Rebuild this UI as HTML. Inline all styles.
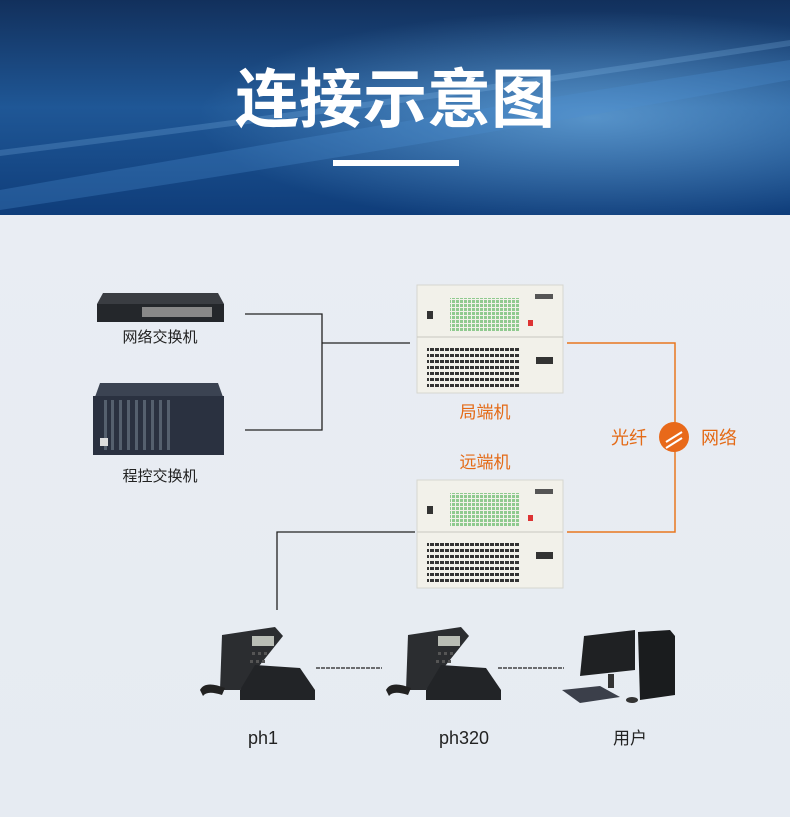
<!DOCTYPE html>
<html><head><meta charset="utf-8"><style>
html,body{margin:0;padding:0;width:790px;height:817px;overflow:hidden;background:#e8ecf2;}
svg{display:block}
text{font-family:"Liberation Sans","Noto Sans CJK SC",sans-serif;}
</style></head><body>
<svg width="790" height="817" viewBox="0 0 790 817" xmlns="http://www.w3.org/2000/svg">
<defs>
<linearGradient id="hdr" x1="0" y1="0" x2="0" y2="1">
<stop offset="0" stop-color="#12305c"/><stop offset="0.5" stop-color="#1f5796"/><stop offset="1" stop-color="#0f3d7a"/>
</linearGradient>
<radialGradient id="glow" cx="0.75" cy="0.55" r="0.5"><stop offset="0" stop-color="#8fd0ff" stop-opacity="0.5"/><stop offset="1" stop-color="#8fd0ff" stop-opacity="0"/></radialGradient>
<pattern id="grn" width="4" height="4" patternUnits="userSpaceOnUse"><rect width="3" height="3" fill="#8fca8f"/></pattern>
<pattern id="blk" width="5" height="6" patternUnits="userSpaceOnUse"><rect width="4" height="3" fill="#333"/></pattern>
<linearGradient id="bg" x1="0" y1="0" x2="0" y2="1"><stop offset="0" stop-color="#e9edf3"/><stop offset="1" stop-color="#e6ebf2"/></linearGradient>
</defs>
<rect x="0" y="215" width="790" height="602" fill="url(#bg)"/>
<rect x="0" y="0" width="790" height="215" fill="url(#hdr)"/>
<rect x="0" y="0" width="790" height="215" fill="url(#glow)"/>
<path d="M0 190 Q400 120 790 60 L790 80 Q400 150 0 210Z" fill="#4d8fd0" opacity="0.3"/>
<path d="M0 150 Q400 100 790 40 L790 46 Q400 106 0 156Z" fill="#9cd0ff" opacity="0.2"/>
<text x="395" y="122" text-anchor="middle" font-size="64" font-weight="bold" fill="#fff">连接示意图</text>
<rect x="333" y="160" width="126" height="6" fill="#fff"/>

<path d="M103 293 L218 293 L224 304 L97 304Z" fill="#3a3d42"/>
<rect x="97" y="304" width="127" height="18" fill="#24272b"/>
<rect x="142" y="307" width="70" height="10" fill="#888"/>
<text x="160" y="342" text-anchor="middle" font-size="15" fill="#222">网络交换机</text>
<path d="M100 383 L218 383 L223 397 L95 397Z" fill="#3b4352"/>
<rect x="93" y="396" width="131" height="59" fill="#2a3140"/>
<g fill="#55606e"><rect x="104" y="400" width="3" height="50"/><rect x="111" y="400" width="3" height="50"/><rect x="119" y="400" width="3" height="50"/><rect x="127" y="400" width="3" height="50"/><rect x="135" y="400" width="3" height="50"/><rect x="143" y="400" width="3" height="50"/><rect x="151" y="400" width="3" height="50"/><rect x="159" y="400" width="3" height="50"/><rect x="167" y="400" width="3" height="50"/></g>
<rect x="100" y="438" width="8" height="8" fill="#ddd"/>
<text x="160" y="481" text-anchor="middle" font-size="15" fill="#222">程控交换机</text>

<g stroke="#222" stroke-width="1.3" fill="none">
<polyline points="245,314 322,314 322,430 245,430"/>
<line x1="322" y1="343" x2="410" y2="343"/>
<polyline points="415,532 277,532 277,610"/>
</g>
<polyline points="567,343 675,343 675,532 567,532" stroke="#e8761f" stroke-width="1.5" fill="none"/>

<g id="u">
<rect x="417" y="285" width="146" height="108" fill="#f2f1ea" stroke="#d6d6d0"/>
<line x1="417" y1="337" x2="563" y2="337" stroke="#c8c8c0"/>
<rect x="450" y="298" width="70" height="33" fill="url(#grn)"/>
<rect x="427" y="311" width="6" height="8" fill="#333"/>
<rect x="528" y="320" width="5" height="6" fill="#d33"/>
<rect x="535" y="294" width="18" height="5" fill="#555"/>
<rect x="427" y="345" width="92" height="42" fill="url(#blk)"/>
<rect x="536" y="357" width="17" height="7" fill="#333"/>
</g>
<use href="#u" y="195"/>

<text x="485" y="418" text-anchor="middle" font-size="17" fill="#e46a16">局端机</text>
<text x="485" y="468" text-anchor="middle" font-size="17" fill="#e46a16">远端机</text>
<text x="629" y="444" text-anchor="middle" font-size="18" fill="#e46a16">光纤</text>
<text x="719" y="444" text-anchor="middle" font-size="18" fill="#e46a16">网络</text>
<circle cx="674" cy="437" r="15" fill="#e8691a"/>
<g stroke="#fff" stroke-width="2" fill="none"><line x1="666" y1="442" x2="682" y2="432"/><line x1="666" y1="448" x2="682" y2="438"/></g>

<g id="ph">
<path d="M222 635 L275 627 L283 636 L240 690 L220 690Z" fill="#2b2d30"/>
<path d="M255 665 L300 668 L315 690 L315 700 L240 700 L240 690Z" fill="#222427"/>
<rect x="252" y="636" width="22" height="10" fill="#b9bdb5"/>
<path d="M200 690 Q205 680 225 688 L222 695 Q207 690 203 696Z" fill="#222"/>
<g fill="#555"><rect x="252" y="652" width="3" height="3"/><rect x="258" y="652" width="3" height="3"/><rect x="264" y="652" width="3" height="3"/><rect x="250" y="660" width="3" height="3"/><rect x="256" y="660" width="3" height="3"/><rect x="262" y="660" width="3" height="3"/></g>
</g>
<use href="#ph" x="186"/>
<path d="M584 636 L635 630 L635 670 L580 676Z" fill="#1f2123"/>
<rect x="608" y="674" width="6" height="14" fill="#333"/>
<path d="M562 690 L600 686 L620 697 L580 703Z" fill="#3b3f4a"/>
<path d="M638 632 L670 630 L675 636 L675 695 L640 700Z" fill="#1a1c1e"/>
<ellipse cx="632" cy="700" rx="6" ry="3" fill="#333"/>

<g stroke="#222" stroke-width="1.2" stroke-dasharray="4,1"><line x1="316" y1="668" x2="382" y2="668"/><line x1="498" y1="668" x2="564" y2="668"/></g>

<text x="263" y="744" text-anchor="middle" font-size="18" fill="#222">ph1</text>
<text x="464" y="744" text-anchor="middle" font-size="18" fill="#222">ph320</text>
<text x="630" y="744" text-anchor="middle" font-size="17" fill="#222">用户</text>
</svg>
</body></html>
